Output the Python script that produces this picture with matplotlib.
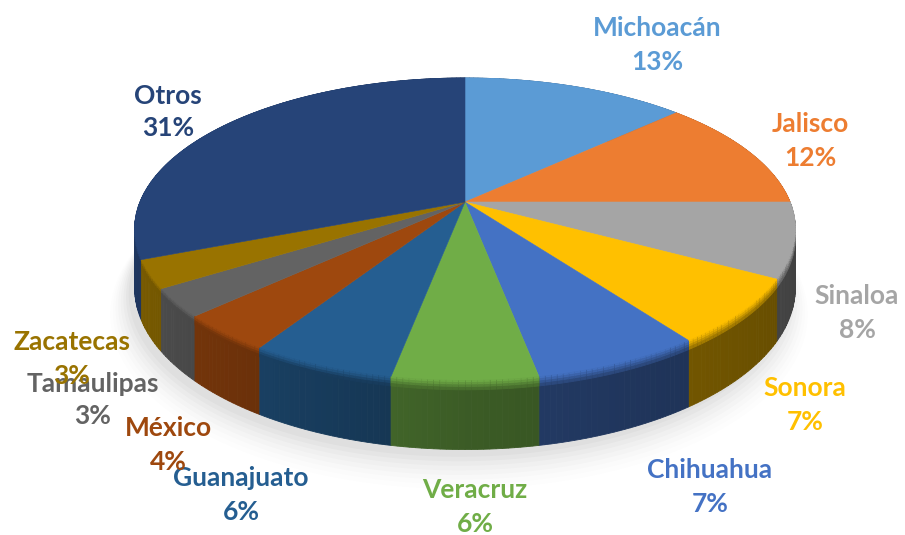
import numpy as np
import matplotlib.pyplot as plt
from matplotlib.colors import to_rgb

# Datos
states = ["Michoacán", "Jalisco", "Sinaloa", "Sonora", "Chihuahua", "Veracruz",
          "Guanajuato", "México", "Tamaulipas", "Zacatecas", "Otros"]
shares = [13, 12, 8, 7, 7, 6, 6, 4, 3, 3, 31]

top_colors = ["#5B9BD5", "#ED7D31", "#A5A5A5", "#FFC000", "#4472C4", "#70AD47",
              "#255E91", "#9E480E", "#636363", "#997300", "#264478"]
label_colors = ["#5B9BD5", "#ED7D31", "#A5A5A5", "#FFC000", "#4472C4", "#70AD47",
                "#255E91", "#9E480E", "#636363", "#997300", "#264478"]

# posiciones de etiquetas (pixeles, centro del bloque)
label_pos = [(657, 45), (810, 141), (857, 313), (805, 405), (710, 487), (475, 507),
             (241, 495), (168, 445), (93, 400), (72, 359), (168, 112)]

# geometria de la vista en perspectiva
cx, cy = 465, 202
s, c, k = 325, 146.2, 0.179
depth = 57


def project(theta, z=0.0):
    u = np.sin(theta)
    v = np.cos(theta)
    d = 1 + k * v
    return cx + s * u / d, cy - c * v / d + z / d


def shade(col, f):
    r, g, b = to_rgb(col)
    return (min(r * f, 1), min(g * f, 1), min(b * f, 1))


def side_factor(theta):
    u = np.sin(theta)
    return 0.53 - 0.27 * u if u < 0 else 0.53 - 0.14 * u


def main():
    fig = plt.figure(figsize=(9.05, 5.35), dpi=100)
    ax = fig.add_axes([0, 0, 1, 1])
    ax.set_xlim(0, 905)
    ax.set_ylim(535, 0)
    ax.axis("off")

    total = sum(shares)
    bounds = np.concatenate([[0], np.cumsum(shares)]) / total * 2 * np.pi

    # sombra suave
    t = np.linspace(0, 2 * np.pi, 200)
    for i, a in enumerate(np.linspace(0.05, 0.012, 8)):
        grow = 1 + 0.008 * i
        x, y = project(t, depth + 6 + 2 * i)
        ax.fill(cx + (x - cx) * grow - 6, cy + (y - cy) * grow, color="black",
                alpha=a * 0.5, lw=0, zorder=1)

    # caras laterales, de atras hacia adelante
    segs = []
    for i in range(len(shares)):
        edges = np.linspace(bounds[i], bounds[i + 1], max(4, shares[i] * 4) + 1)
        for a0, a1 in zip(edges[:-1], edges[1:]):
            segs.append((np.cos((a0 + a1) / 2), i, a0, a1))
    segs.sort(key=lambda e: -e[0])
    bevel = [(0, 2, 0.97), (2, 4, 0.88), (4, 6, 0.76), (6, 8, 0.64)]
    for _, i, a0, a1 in segs:
        th = np.linspace(a0, a1, 6)
        f = side_factor((a0 + a1) / 2)
        xt, yt = project(th, 0)
        xb, yb = project(th[::-1], depth)
        ax.fill(np.concatenate([xt, xb]), np.concatenate([yt, yb]),
                color=shade(top_colors[i], f), lw=0.6,
                ec=shade(top_colors[i], f), zorder=2)
        for z0, z1, g in bevel:
            xa, ya = project(th, z0)
            xc, yc = project(th[::-1], z1)
            col = shade(top_colors[i], max(g, f))
            ax.fill(np.concatenate([xa, xc]), np.concatenate([ya, yc]),
                    color=col, lw=0.6, ec=col, zorder=2)

    # cara superior
    for i in range(len(shares)):
        th = np.linspace(bounds[i], bounds[i + 1], 80)
        x, y = project(th, 0)
        ax.fill(np.concatenate([[cx], x]), np.concatenate([[cy], y]),
                color=top_colors[i], lw=0.4, ec=top_colors[i], zorder=3)

    for name, val, col, (lx, ly) in zip(states, shares, label_colors, label_pos):
        ax.text(lx, ly, f"{name}\n{val}%", ha="center", va="center",
                color=col, fontsize=19, fontweight="bold", family="Lato",
                linespacing=1.45, zorder=5)

    plt.savefig("out.png", dpi=100)


if __name__ == "__main__":
    main()
